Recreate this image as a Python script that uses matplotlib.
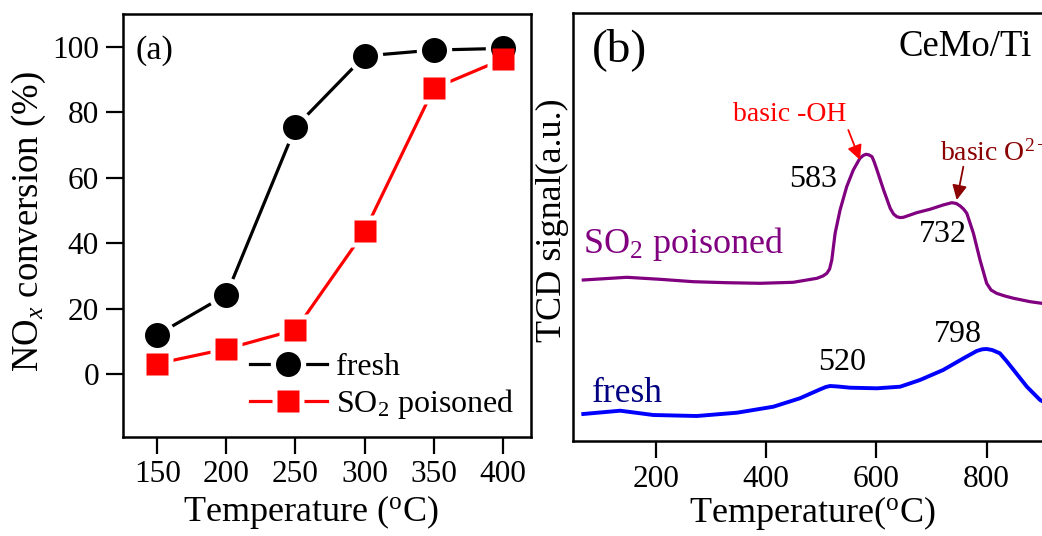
import matplotlib
matplotlib.use("Agg")
import matplotlib.pyplot as plt
from matplotlib.legend_handler import HandlerTuple

plt.rcParams['font.family'] = ['Liberation Serif', 'DejaVu Serif']
plt.rcParams['mathtext.fontset'] = 'custom'
plt.rcParams['mathtext.rm'] = 'Liberation Serif'
plt.rcParams['mathtext.it'] = 'Liberation Serif:italic'
plt.rcParams['mathtext.bf'] = 'Liberation Serif:bold'

# ---------------- data: panel (a) ----------------
temps_a = [150, 200, 250, 300, 350, 400]
fresh_conv = [12.1, 24.3, 75.5, 97.2, 99.0, 99.5]
so2_conv = [3.3, 7.8, 13.6, 43.7, 87.3, 96.2]
xticks_a = [150, 200, 250, 300, 350, 400]
yticks_a = [0, 20, 40, 60, 80, 100]

# ---------------- data: panel (b) ----------------
t_so2 = [68, 147, 207, 268, 328, 389, 449, 492, 503, 510, 515, 519, 525, 534, 546,
         558, 570, 576, 581, 586, 592, 596, 601, 613, 625, 631, 637, 643, 649, 661,
         673, 697, 721, 737, 745, 752, 758, 764, 776, 788, 800, 808, 818, 833, 849,
         879, 900, 940]
s_so2 = [161, 163.7, 161.7, 159.3, 158.3, 157.7, 158.7, 162.7, 165, 167.7, 172, 181,
         207.7, 231, 254.3, 271, 282.7, 285.5, 286.7, 286.2, 284.3, 279, 271, 251,
         232.7, 227, 224.3, 223.4, 223.7, 226, 228.3, 231.7, 236, 238.3, 237.5, 235,
         232, 227.7, 207.7, 181, 157.7, 151, 147.7, 145, 142.7, 139.3, 137.7, 136]
t_fresh = [68, 135, 195, 274, 347, 413, 461, 498, 508, 516, 530, 552, 601, 643, 679,
           721, 758, 782, 792, 800, 810, 824, 836, 849, 873, 897, 940]
s_fresh = [27, 30.3, 26, 25, 28.3, 34.3, 42.7, 51.7, 54, 55, 54.5, 53.3, 52.7, 54.3,
           61, 71, 82.7, 90, 91.7, 92, 91, 87.7, 80, 71, 54.3, 41, 28]
xticks_b = [200, 400, 600, 800]

W, H = 1042, 536
fig = plt.figure(figsize=(W / 100, H / 100), dpi=100)
fig.patch.set_facecolor('white')

# ---------------- panel (a) ----------------
ax1 = fig.add_axes([122.7 / W, 1 - 436.7 / H, 407.8 / W, 422.7 / H])
ax1.set_xlim(125, 420)
ax1.set_ylim(-19, 110)

lf, = ax1.plot(temps_a, fresh_conv, color='black', lw=2.3, zorder=2)
ls, = ax1.plot(temps_a, so2_conv, color='red', lw=2.3, zorder=2)
hf, = ax1.plot(temps_a, fresh_conv, ls='none', marker='o', ms=25.5, mfc='white', mec='none', zorder=3)
hs, = ax1.plot(temps_a, so2_conv, ls='none', marker='s', ms=23.5, mfc='white', mec='none', zorder=3)
mf, = ax1.plot(temps_a, fresh_conv, ls='none', marker='o', ms=18, mfc='black', mec='none', zorder=4)
ms_, = ax1.plot(temps_a, so2_conv, ls='none', marker='s', ms=16.3, mfc='red', mec='none', zorder=5)

leg = ax1.legend([(lf, hf, mf), (ls, hs, ms_)], ['fresh', 'SO$_2$ poisoned'],
                 handler_map={tuple: HandlerTuple(ndivide=1, pad=0)},
                 loc='center left', bbox_to_anchor=(0.312, 0.118), frameon=False,
                 fontsize=23, handlelength=2.4, handletextpad=0.3, labelspacing=0.15,
                 borderpad=0, borderaxespad=0)

ax1.set_xticks(xticks_a)
ax1.set_yticks(yticks_a)
ax1.tick_params(direction='out', length=12, width=1.6, labelsize=22.5, pad=5,
                top=False, right=False)
for sp in ax1.spines.values():
    sp.set_linewidth(1.8)
ax1.set_xlabel('Temperature ($^{\\mathrm{o}}$C)', fontsize=26, va='center', ha='center')
ax1.xaxis.set_label_coords(0.462, -0.177)
ax1.set_ylabel('NO$_{x}$ conversion (%)', fontsize=26.5, va='center', ha='center')
ax1.yaxis.set_label_coords(-0.23, 0.508)
ax1.text(133.9, 98.8, '(a)', fontsize=24.5, ha='left', va='center')

# ---------------- panel (b) ----------------
ax2 = fig.add_axes([572.7 / W, 1 - 441 / H, 496.6 / W, 428.3 / H])
ax2.set_xlim(48.8, 950)
ax2.set_ylim(0, 428.3)
ax2.plot(t_so2, s_so2, color='#800080', lw=2.3)
ax2.plot(t_fresh, s_fresh, color='#0000FF', lw=2.8)
ax2.set_xticks(xticks_b)
ax2.set_yticks([])
ax2.tick_params(axis='x', direction='out', length=12, width=1.6, labelsize=22.5, pad=5,
                top=False)
for sp in ax2.spines.values():
    sp.set_linewidth(1.8)
ax2.set_xlabel('Temperature($^{\\mathrm{o}}$C)', fontsize=26, va='center', ha='center')
ax2.xaxis.set_label_coords(0.482, -0.168)
ax2.set_ylabel('TCD signal(a.u.)', fontsize=26, va='center', ha='center')
ax2.yaxis.set_label_coords(-0.0417, 0.516)

ax2.text(83.3, 391, '(b)', fontsize=34, ha='left', va='center')
ax2.text(881.8, 394.3, 'CeMo/Ti', fontsize=26.5, ha='right', va='center')
ax2.text(443.2, 326, 'basic -OH', fontsize=20, color='red', ha='center', va='center')
ax2.annotate('', xy=(570.2, 281), xytext=(549, 311),
             arrowprops=dict(arrowstyle='-|>', color='red', lw=1.3, mutation_scale=22,
                             shrinkA=0, shrinkB=0))
ax2.text(715.4, 287.7, 'basic O$^{2-}$', fontsize=20, color='#8B0000', ha='left', va='center',
         clip_on=False)
ax2.annotate('', xy=(745.7, 241), xytext=(757.7, 274.3),
             arrowprops=dict(arrowstyle='-|>', color='#8B0000', lw=1.3, mutation_scale=22,
                             shrinkA=0, shrinkB=0))
ax2.text(485, 261, '583', fontsize=23, ha='center', va='center')
ax2.text(720.9, 206, '732', fontsize=23, ha='center', va='center')
ax2.text(537, 78, '520', fontsize=23, ha='center', va='center')
ax2.text(747.2, 106, '798', fontsize=23, ha='center', va='center')
ax2.text(68, 187.7, 'SO$_2$ poisoned', fontsize=26, color='#800080', ha='left', va='baseline')
ax2.text(83.3, 39.3, 'fresh', fontsize=25.5, color='#000080', ha='left', va='baseline')

fig.savefig('out.png', dpi=100)
